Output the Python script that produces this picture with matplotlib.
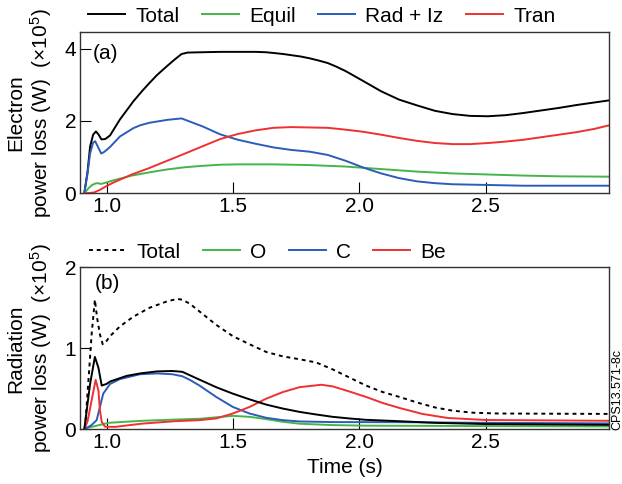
import matplotlib
matplotlib.use("Agg")
import matplotlib.pyplot as plt

plt.rcParams['font.family'] = ['Liberation Sans', 'DejaVu Sans']
plt.rcParams['font.size'] = 15
plt.rcParams['mathtext.fontset'] = 'custom'
plt.rcParams['mathtext.rm'] = 'Liberation Sans'
plt.rcParams['mathtext.it'] = 'Liberation Sans:italic'

# cores
preto = 'black'
verde = '#45b549'
azul = '#2b5cb8'
vermelho = '#f03030'

#%% painel (a) - perdas de potência dos elétrons
t_total_a = [0.912, 0.925, 0.935, 0.947, 0.958, 0.968, 0.980, 0.995, 1.014, 1.053, 1.106,
             1.14, 1.17, 1.2, 1.24, 1.27, 1.297, 1.32, 1.38, 1.45, 1.52, 1.59, 1.63, 1.66,
             1.7, 1.73, 1.77, 1.805, 1.84, 1.876, 1.91, 1.946, 2.017, 2.087, 2.158, 2.229,
             2.3, 2.37, 2.44, 2.51, 2.58, 2.65, 2.72, 2.79, 2.86, 2.93, 2.99]
total_a = [0.0, 0.6, 1.29, 1.62, 1.71, 1.63, 1.49, 1.5, 1.6, 2.04, 2.54,
           2.82, 3.05, 3.27, 3.52, 3.7, 3.85, 3.89, 3.9, 3.91, 3.91, 3.91, 3.9, 3.88,
           3.85, 3.82, 3.78, 3.73, 3.67, 3.6, 3.5, 3.38, 3.1, 2.82, 2.59, 2.43,
           2.28, 2.19, 2.14, 2.13, 2.16, 2.22, 2.29, 2.36, 2.44, 2.51, 2.57]

t_equil = [0.912, 0.93, 0.943, 0.955, 0.965, 0.979, 1.0, 1.028, 1.1, 1.17, 1.24, 1.31,
           1.38, 1.45, 1.52, 1.66, 1.805, 1.946, 2.087, 2.229, 2.37, 2.51, 2.65, 2.79, 2.99]
equil = [0.0, 0.15, 0.23, 0.27, 0.28, 0.26, 0.3, 0.36, 0.49, 0.58, 0.66, 0.72,
         0.76, 0.79, 0.8, 0.8, 0.78, 0.74, 0.67, 0.6, 0.55, 0.52, 0.49, 0.47, 0.46]

t_rad = [0.912, 0.925, 0.935, 0.947, 0.955, 0.965, 0.979, 0.99, 1.014, 1.053, 1.106,
         1.133, 1.17, 1.24, 1.297, 1.38, 1.45, 1.52, 1.59, 1.66, 1.73, 1.805, 1.876,
         1.946, 2.017, 2.087, 2.158, 2.229, 2.3, 2.37, 2.51, 2.65, 2.99]
rad_iz = [0.0, 0.55, 1.1, 1.4, 1.44, 1.3, 1.1, 1.14, 1.28, 1.57, 1.8,
          1.88, 1.95, 2.03, 2.07, 1.85, 1.63, 1.48, 1.37, 1.27, 1.2, 1.15, 1.06,
          0.9, 0.71, 0.55, 0.42, 0.33, 0.28, 0.25, 0.23, 0.21, 0.21]

t_tran = [0.912, 0.95, 0.975, 1.0, 1.028, 1.1, 1.17, 1.24, 1.297, 1.38, 1.45, 1.52,
          1.59, 1.66, 1.73, 1.805, 1.876, 1.946, 2.017, 2.087, 2.158, 2.229, 2.3,
          2.37, 2.44, 2.51, 2.58, 2.65, 2.72, 2.79, 2.86, 2.93, 2.99]
tran = [0.0, 0.02, 0.1, 0.2, 0.3, 0.52, 0.7, 0.9, 1.06, 1.3, 1.5, 1.64,
        1.74, 1.81, 1.83, 1.82, 1.81, 1.76, 1.7, 1.62, 1.53, 1.45, 1.39,
        1.36, 1.36, 1.39, 1.43, 1.48, 1.55, 1.62, 1.69, 1.78, 1.88]

#%% painel (b) - perdas por radiação
t_total_b = [0.915, 0.932, 0.941, 0.954, 0.963, 0.974, 0.985, 1.0, 1.014, 1.053, 1.106,
             1.17, 1.24, 1.28, 1.3, 1.33, 1.368, 1.434, 1.5, 1.566, 1.632, 1.698, 1.764,
             1.83, 1.895, 1.961, 2.027, 2.093, 2.159, 2.23, 2.3, 2.37, 2.45, 2.55, 2.99]
total_b = [0.01, 0.76, 1.17, 1.6, 1.37, 1.17, 1.05, 1.09, 1.15, 1.27, 1.39,
           1.5, 1.58, 1.61, 1.6, 1.55, 1.455, 1.29, 1.15, 1.05, 0.955, 0.9, 0.865,
           0.825, 0.74, 0.64, 0.54, 0.46, 0.4, 0.33, 0.27, 0.23, 0.205, 0.195, 0.19]

t_soma_b = [0.912, 0.935, 0.954, 0.968, 0.981, 1.0, 1.014, 1.08, 1.133, 1.2, 1.26, 1.3,
            1.368, 1.434, 1.5, 1.566, 1.632, 1.698, 1.764, 1.83, 1.895, 1.961, 2.027,
            2.159, 2.3, 2.5, 2.99]
soma_b = [0.0, 0.56, 0.894, 0.76, 0.54, 0.56, 0.59, 0.66, 0.69, 0.715, 0.72, 0.71,
          0.613, 0.52, 0.44, 0.37, 0.305, 0.256, 0.215, 0.183, 0.154, 0.134, 0.117,
          0.1, 0.08, 0.065, 0.055]

t_o = [0.912, 0.955, 1.007, 1.14, 1.27, 1.368, 1.5, 1.566, 1.632, 1.698, 1.764,
       1.895, 2.027, 2.5, 2.99]
o = [0.01, 0.04, 0.08, 0.105, 0.12, 0.13, 0.166, 0.154, 0.126, 0.093, 0.069,
     0.052, 0.045, 0.04, 0.035]

t_c = [0.912, 0.94, 0.961, 0.974, 0.987, 1.014, 1.053, 1.133, 1.2, 1.26, 1.3, 1.33,
       1.368, 1.434, 1.5, 1.566, 1.632, 1.698, 1.764, 1.895, 2.159, 2.5, 2.99]
c = [0.0, 0.05, 0.113, 0.276, 0.44, 0.56, 0.62, 0.68, 0.69, 0.68, 0.655, 0.61,
     0.54, 0.4, 0.276, 0.195, 0.142, 0.113, 0.097, 0.089, 0.088, 0.08, 0.073]

t_be = [0.912, 0.925, 0.941, 0.957, 0.968, 0.974, 0.981, 0.994, 1.034, 1.14, 1.27,
        1.368, 1.434, 1.5, 1.566, 1.632, 1.698, 1.764, 1.85, 1.895, 1.961, 2.027,
        2.093, 2.159, 2.25, 2.35, 2.5, 2.99]
be = [0.0, 0.1, 0.357, 0.61, 0.48, 0.235, 0.093, 0.032, 0.03, 0.07, 0.1,
      0.113, 0.134, 0.195, 0.276, 0.378, 0.46, 0.52, 0.55, 0.53, 0.467, 0.4,
      0.325, 0.264, 0.19, 0.14, 0.115, 0.105]

#%% figura
fig = plt.figure(figsize=(6.22, 4.84), dpi=100)
ax_a = fig.add_axes([0.1294, 0.6006, 0.8502, 0.3326])
ax_b = fig.add_axes([0.1294, 0.1130, 0.8502, 0.3347])

lw = 1.4
ax_a.plot(t_total_a, total_a, color=preto, lw=lw, label='Total')
ax_a.plot(t_equil, equil, color=verde, lw=lw, label='Equil')
ax_a.plot(t_rad, rad_iz, color=azul, lw=lw, label='Rad + Iz')
ax_a.plot(t_tran, tran, color=vermelho, lw=lw, label='Tran')

ax_b.plot(t_total_b, total_b, color=preto, lw=lw, ls=(0, (2, 2)), label='Total')
ax_b.plot(t_o, o, color=verde, lw=lw, label='O')
ax_b.plot(t_c, c, color=azul, lw=lw, label='C')
ax_b.plot(t_be, be, color=vermelho, lw=lw, label='Be')
ax_b.plot(t_soma_b, soma_b, color=preto, lw=lw)

ax_a.set_ylim(0, 4.45)
ax_a.set_yticks([0, 2, 4])
ax_b.set_ylim(0, 2)
ax_b.set_yticks([0, 1, 2])

for ax in (ax_a, ax_b):
    ax.set_xlim(0.897, 2.99)
    ax.set_xticks([1.0, 1.5, 2.0, 2.5])
    ax.set_xticklabels(['1.0', '1.5', '2.0', '2.5'])
    ax.tick_params(direction='in', length=8, width=0.8, pad=3, labelsize=15,
                   top=False, right=False)
    for sp in ax.spines.values():
        sp.set_color('#333333')
        sp.set_linewidth(1.0)

ax_a.text(0.024, 0.871, '(a)', transform=ax_a.transAxes, va='center', ha='left', fontsize=15)
ax_b.text(0.027, 0.903, '(b)', transform=ax_b.transAxes, va='center', ha='left', fontsize=15)

ax_b.set_xlabel('Time (s)', fontsize=15, labelpad=4)

fig.text(0.048, 1 - 112.7 / 484, 'Electron\npower loss (W)  (×10$^{\\mathrm{5}}$)',
         rotation=90, ha='center', va='center', multialignment='center',
         fontsize=15, linespacing=1.15)
fig.text(0.048, 1 - 348.3 / 484, 'Radiation\npower loss (W)  (×10$^{\\mathrm{5}}$)',
         rotation=90, ha='center', va='center', multialignment='center',
         fontsize=15, linespacing=1.15)

leg_kw = dict(loc='center left', bbox_transform=fig.transFigure, ncol=4, frameon=False,
              borderpad=0, borderaxespad=0, handlelength=1.78, handletextpad=0.5,
              columnspacing=1.06, fontsize=15)
ax_a.legend(bbox_to_anchor=(88 / 622, 1 - 16 / 484), **leg_kw)
ax_b.legend(bbox_to_anchor=(89 / 622, 1 - 252 / 484), **leg_kw)

fig.text(617 / 622, 1 - 430 / 484, 'CPS13.571-8c', rotation=90, ha='center', va='bottom',
         fontsize=9)

fig.savefig('out.png', dpi=100)
